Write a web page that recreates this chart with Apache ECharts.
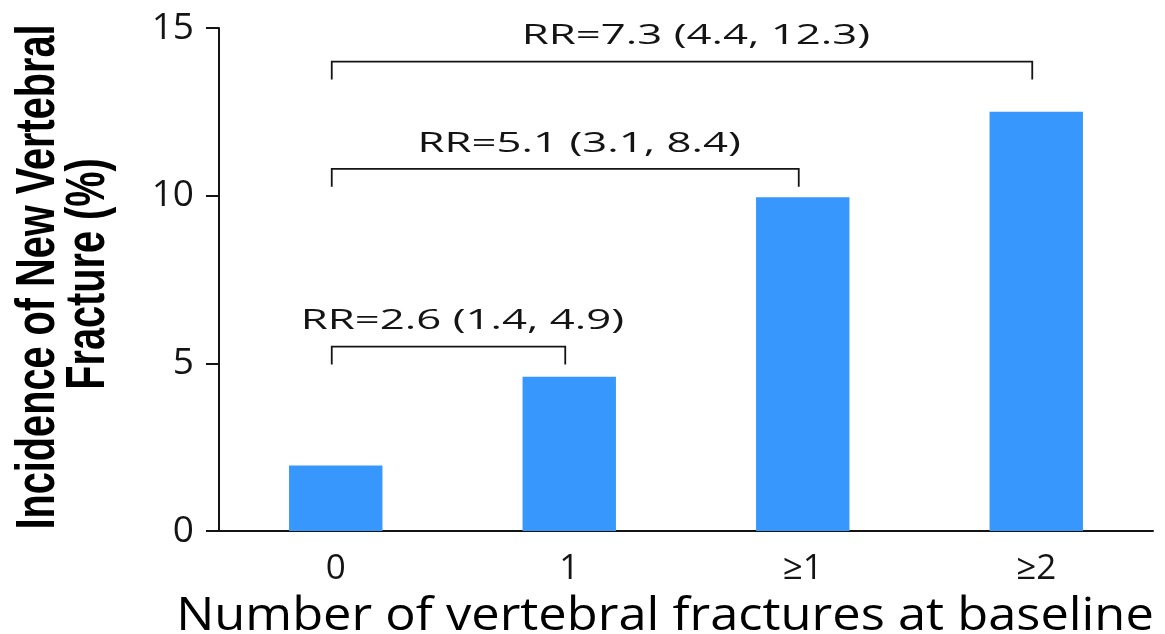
<!DOCTYPE html>
<html><head><meta charset="utf-8">
<script src="https://cdn.jsdelivr.net/npm/echarts@6/dist/echarts.min.js"></script>
<style>html,body{margin:0;padding:0;background:#fff}#c{width:1165px;height:634px}</style>
</head><body><div id="c"></div>
<script>
// ---- data ----
const categories = ['0', '1', '≥1', '≥2'];
const incidence = [1.95, 4.6, 9.95, 12.5];
const yTicks = [0, 5, 10, 15];
const bracketFrom = [0, 0, 0];
const bracketTo = [1, 2, 3];
const bracketLevel = [5.5, 10.8, 14.0];
const bracketLabels = ['RR=2.6 (1.4, 4.9)', 'RR=5.1 (3.1, 8.4)', 'RR=7.3 (4.4, 12.3)'];
const yTitleLines = ['Incidence of New Vertebral', 'Fracture (%)'];
const xTitle = 'Number of vertebral fractures at baseline';

// ---- chart ----
const ink = '#141414';
const chart = echarts.init(document.getElementById('c'));
chart.setOption({
  animation: false,
  backgroundColor: '#fff',
  grid: { left: 219, right: 12, top: 28, bottom: 103, containLabel: false },
  xAxis: {
    type: 'category',
    data: categories,
    boundaryGap: true,
    axisLine: { show: true, lineStyle: { color: ink, width: 2 } },
    axisTick: { show: false },
    axisLabel: { fontFamily: 'Open Sans', fontSize: 35, color: ink, margin: 21 },
    splitLine: { show: false }
  },
  yAxis: {
    type: 'value',
    min: yTicks[0],
    max: yTicks[yTicks.length - 1],
    interval: yTicks[1] - yTicks[0],
    axisLine: { show: true, lineStyle: { color: ink, width: 2 } },
    axisTick: { show: true, inside: false, length: 13, lineStyle: { color: ink, width: 2 } },
    axisLabel: { fontFamily: 'Open Sans', fontSize: 37, color: ink, margin: 25 },
    splitLine: { show: false }
  },
  series: [
    {
      type: 'bar',
      data: incidence,
      barWidth: '40%',
      itemStyle: { color: '#3797fc' },
      silent: true
    },
    {
      type: 'custom',
      clip: false,
      silent: true,
      encode: { x: [0, 1], y: 2 },
      data: bracketFrom.map((f, i) => [f, bracketTo[i], bracketLevel[i]]),
      renderItem: function (params, api) {
        const a = api.coord([api.value(0), api.value(2)]);
        const b = api.coord([api.value(1), api.value(2)]);
        const x1 = a[0] - 4, x2 = b[0] - 4, y = a[1];
        const tick = 18;
        return {
          type: 'group',
          children: [
            {
              type: 'polyline',
              shape: { points: [[x1, y + tick], [x1, y], [x2, y], [x2, y + tick]] },
              style: { stroke: ink, lineWidth: 1.8, fill: null }
            },
            {
              type: 'text',
              x: (x1 + x2) / 2 + 14,
              y: y - 25,
              scaleX: 1.62,
              style: {
                text: bracketLabels[params.dataIndex],
                fontFamily: 'Open Sans',
                fontSize: 27,
                fill: ink,
                align: 'center',
                verticalAlign: 'middle'
              }
            }
          ]
        };
      }
    }
  ],
  graphic: [
    {
      type: 'text', x: 39, y: 277, rotation: Math.PI / 2, scaleY: 1.41,
      style: { text: yTitleLines[0], fontFamily: 'Liberation Sans', fontWeight: 'bold', fontSize: 39.7, fill: '#000', align: 'center', verticalAlign: 'middle' }
    },
    {
      type: 'text', x: 89, y: 274, rotation: Math.PI / 2, scaleY: 1.41,
      style: { text: yTitleLines[1], fontFamily: 'Liberation Sans', fontWeight: 'bold', fontSize: 39.7, fill: '#000', align: 'center', verticalAlign: 'middle' }
    },
    {
      type: 'text', x: 665, y: 617, scaleX: 1.1,
      style: { text: xTitle, fontFamily: 'Open Sans', fontWeight: 500, fontSize: 46, fill: '#000', align: 'center', verticalAlign: 'middle' }
    }
  ]
});
</script>
</body></html>
